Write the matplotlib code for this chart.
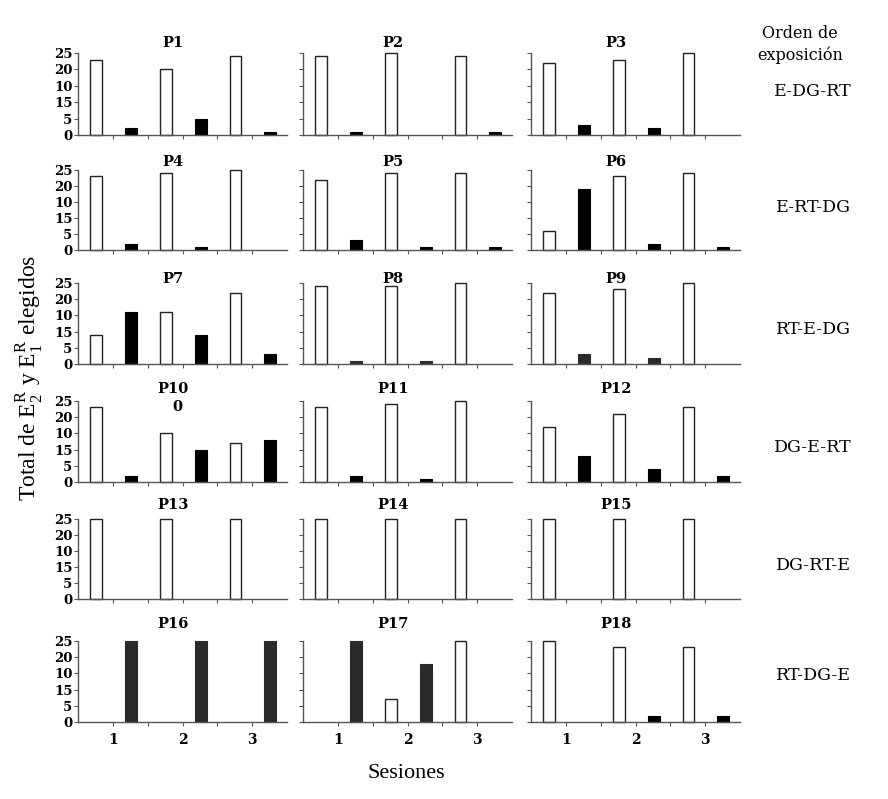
import matplotlib.pyplot as plt
import numpy as np

# datos (sesiones 1-3)
participantes = ['P%d' % i for i in range(1, 19)]
sesiones = [1, 2, 3]
blancas = [
    [23, 20, 24], [24, 25, 24], [22, 23, 25],
    [23, 24, 25], [22, 24, 24], [6, 23, 24],
    [9, 16, 22], [24, 24, 25], [22, 23, 25],
    [23, 15, 12], [23, 24, 25], [17, 21, 23],
    [25, 25, 25], [25, 25, 25], [25, 25, 25],
    [0, 0, 0], [0, 7, 25], [25, 23, 23],
]
negras = [
    [2, 5, 1], [1, 0, 1], [3, 2, 0],
    [2, 1, 0], [3, 1, 1], [19, 2, 1],
    [16, 9, 3], [1, 1, 0], [3, 2, 0],
    [2, 10, 13], [2, 1, 0], [8, 4, 2],
    [0, 0, 0], [0, 0, 0], [0, 0, 0],
    [25, 25, 25], [25, 18, 0], [0, 2, 2],
]
ordenes = ['E-DG-RT', 'E-RT-DG', 'RT-E-DG', 'DG-E-RT', 'DG-RT-E', 'RT-DG-E']
yticks = [0, 5, 10, 15, 20, 25]
ytick_labels = ['0', '5', '15', '10', '20', '25']

W, H = 888, 799
fig = plt.figure(figsize=(W / 100, H / 100), dpi=100)

# posiciones en pixeles
col_left = [78, 303, 531]
col_w = 209
row_top = [53, 170, 283, 401, 519, 641]
row_h = [82, 80, 81, 81, 80, 81]
title_y = [43, 162, 279, 389, 505, 624]
title_x = [173, 393, 616]
orden_y = [92, 208, 330, 447, 565, 675]
gris = {7, 8, 15, 16}

serif = 'DejaVu Serif'

for k in range(18):
    r, c = divmod(k, 3)
    left = col_left[c] / W
    bottom = 1 - (row_top[r] + row_h[r]) / H
    ax = fig.add_axes([left, bottom, col_w / W, row_h[r] / H])
    x = np.array(sesiones)
    b = np.array(blancas[k])
    n = np.array(negras[k])
    color_n = '#2a2a2a' if k in gris else 'black'
    # las barras con valor 0 no se dibujan
    ax.bar((2 * x - 1.48)[b > 0], b[b > 0], width=0.34, color='white',
           edgecolor='#222222', linewidth=1, clip_on=False)
    ax.bar((2 * x - 0.48)[n > 0], n[n > 0], width=0.34, color=color_n,
           edgecolor=color_n, linewidth=0.8, clip_on=False)
    ax.set_xlim(0, 6)
    ax.set_ylim(0, 25)
    for s in ['top', 'right']:
        ax.spines[s].set_visible(False)
    for s in ['left', 'bottom']:
        ax.spines[s].set_color('#555555')
        ax.spines[s].set_linewidth(1)
    ax.set_yticks(yticks)
    ax.set_xticks([1, 2, 3, 4, 5])
    ax.tick_params(axis='both', colors='#555555', length=3, width=0.8,
                   direction='out', pad=1)
    if c == 0:
        ax.set_yticklabels(ytick_labels, fontfamily=serif, fontweight='bold',
                           fontsize=9.5, color='black')
    else:
        ax.set_yticklabels([])
    if r == 5:
        ax.set_xticks(2 * x - 1)
        ax.set_xticks([2, 4], minor=True)
        ax.tick_params(axis='x', which='minor', colors='#555555', length=3,
                       width=0.8)
        ax.set_xticklabels([str(s) for s in sesiones], fontfamily=serif,
                           fontweight='bold', fontsize=10, color='black')
        ax.tick_params(axis='x', pad=5)
    else:
        ax.set_xticklabels([])
    fig.text(title_x[c] / W, 1 - title_y[r] / H, participantes[k],
             ha='center', va='center', fontfamily=serif, fontweight='bold',
             fontsize=10.5)

# el "0" suelto bajo P10
fig.text(177 / W, 1 - 407 / H, '0', ha='center', va='center',
         fontfamily=serif, fontweight='bold', fontsize=10.5)

for r, o in enumerate(ordenes):
    fig.text(813 / W, 1 - orden_y[r] / H, o, ha='center', va='center',
             fontfamily=serif, fontsize=12.5)
fig.text(800 / W, 1 - 33 / H, 'Orden de', ha='center', va='center',
         fontfamily=serif, fontsize=11.5)
fig.text(800 / W, 1 - 55 / H, 'exposición', ha='center', va='center',
         fontfamily=serif, fontsize=11.5)

plt.rcParams['mathtext.fontset'] = 'custom'
plt.rcParams['mathtext.rm'] = 'Liberation Serif'
fig.text(30 / W, 1 - 378 / H,
         r'Total de E$^{\mathrm{R}}_{\mathrm{2}}$ y E$^{\mathrm{R}}_{\mathrm{1}}$ elegidos',
         rotation=90, ha='center', va='center', fontfamily='Liberation Serif',
         fontsize=17)
fig.text(406 / W, 1 - 773 / H, 'Sesiones', ha='center', va='center',
         fontfamily='Liberation Serif', fontsize=16)

fig.savefig('out.png', dpi=100)
